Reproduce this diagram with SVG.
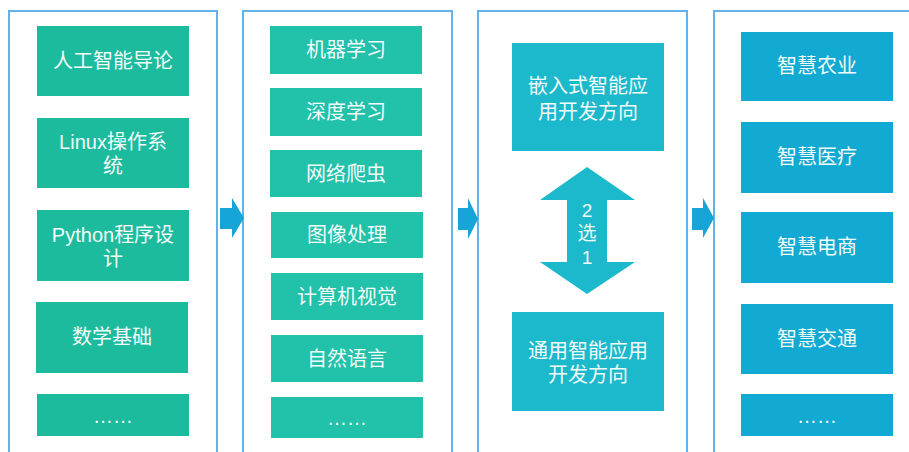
<svg xmlns="http://www.w3.org/2000/svg" width="909" height="452" viewBox="0 0 909 452">
<defs>
<style>
.panel{fill:#ffffff;stroke:#62b3ea;stroke-width:2}
.b1{fill:#1dbb9e}
.b2{fill:#21c1aa}
.b3{fill:#1cb9cd}
.b4{fill:#12a9d2}
.t{fill:#f2fbfa;font-family:"Liberation Sans","Noto Sans CJK SC",sans-serif;font-size:20px;text-anchor:middle}
.s{font-size:19px}
.arr{fill:#16a5d6}
</style>
</defs>
<rect width="909" height="452" fill="#ffffff"/>
<g id="panel1">
<rect class="panel" x="9" y="11" width="208" height="452"/>
<g id="n-ai"><rect class="b1" x="37" y="26" width="152" height="70"/><text class="t" x="113" y="68">人工智能导论</text></g>
<g id="n-linux"><rect class="b1" x="37" y="118" width="152" height="70"/><text class="t" x="113" y="149">Linux操作系</text><text class="t" x="113" y="173">统</text></g>
<g id="n-python"><rect class="b1" x="37" y="210" width="152" height="71"/><text class="t" x="113" y="242">Python程序设</text><text class="t" x="113" y="266">计</text></g>
<g id="n-math"><rect class="b1" x="36" y="302" width="152" height="71"/><text class="t" x="112" y="344">数学基础</text></g>
<g id="n-more1"><rect class="b1" x="37" y="394" width="152" height="42"/><text class="t" x="113" y="423">……</text></g>
</g>
<g id="panel2">
<rect class="panel" x="243" y="11" width="209" height="452"/>
<g id="n-ml"><rect class="b2" x="270" y="26" width="152" height="48"/><text class="t" x="346" y="57">机器学习</text></g>
<g id="n-dl"><rect class="b2" x="270" y="88" width="152" height="48"/><text class="t" x="346" y="119">深度学习</text></g>
<g id="n-crawl"><rect class="b2" x="270" y="150" width="152" height="47"/><text class="t" x="346" y="181">网络爬虫</text></g>
<g id="n-img"><rect class="b2" x="271" y="212" width="152" height="46"/><text class="t" x="347" y="242">图像处理</text></g>
<g id="n-cv"><rect class="b2" x="271" y="273" width="152" height="47"/><text class="t" x="347" y="304">计算机视觉</text></g>
<g id="n-nlp"><rect class="b2" x="271" y="335" width="152" height="47"/><text class="t" x="347" y="366">自然语言</text></g>
<g id="n-more2"><rect class="b2" x="271" y="397" width="152" height="41"/><text class="t" x="347" y="425">……</text></g>
</g>
<g id="panel3">
<rect class="panel" x="478" y="11" width="209" height="452"/>
<g id="n-embed"><rect class="b3" x="512" y="43" width="152" height="108"/><text class="t" x="588" y="93">嵌入式智能应</text><text class="t" x="588" y="119">用开发方向</text></g>
<g id="n-general"><rect class="b3" x="512" y="312" width="152" height="99"/><text class="t" x="588" y="358">通用智能应用</text><text class="t" x="588" y="382">开发方向</text></g>
<g id="n-choose">
<polygon class="b3" points="587,167 635,200 607,200 607,262 635,262 587,294 540,262 567,262 567,200 540,200"/>
<text class="t s" x="587" y="217">2</text><text class="t s" x="587" y="240">选</text><text class="t s" x="587" y="264">1</text>
</g>
</g>
<g id="panel4">
<rect class="panel" x="714" y="11" width="205" height="452"/>
<g id="n-agri"><rect class="b4" x="741" y="32" width="152" height="69"/><text class="t" x="817" y="73">智慧农业</text></g>
<g id="n-med"><rect class="b4" x="741" y="122" width="152" height="71"/><text class="t" x="817" y="164">智慧医疗</text></g>
<g id="n-ecom"><rect class="b4" x="741" y="212" width="152" height="71"/><text class="t" x="817" y="254">智慧电商</text></g>
<g id="n-traffic"><rect class="b4" x="741" y="304" width="152" height="70"/><text class="t" x="817" y="346">智慧交通</text></g>
<g id="n-more4"><rect class="b4" x="741" y="394" width="152" height="42"/><text class="t" x="817" y="423">……</text></g>
</g>
<g id="connectors">
<polygon class="arr" points="220,208 232,208 232,198 244,218 232,238 232,229 220,229"/>
<polygon class="arr" points="458,208 468,208 468,198 478,219 468,239 468,230 458,230"/>
<polygon class="arr" points="692,208 703,208 703,198 714,218 703,238 703,230 692,230"/>
</g>
</svg>
